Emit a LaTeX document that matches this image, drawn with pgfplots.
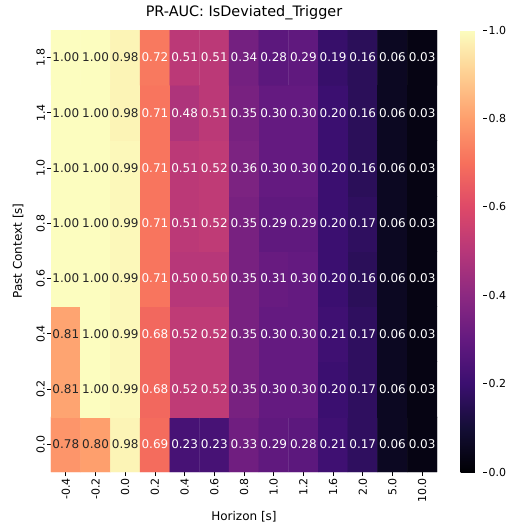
\documentclass[border=0pt]{standalone}
\usepackage{pgfplots}
\usepackage{pgfplotstable}
\pgfplotsset{compat=1.18}
\usepackage{fontspec}
\setmainfont{DejaVu Sans}
\definecolor{lbldark}{HTML}{262626}
\pgfplotsset{colormap={magma}{rgb255=(0,0,4) rgb255=(20,14,54) rgb255=(59,15,112) rgb255=(100,26,128) rgb255=(140,41,129) rgb255=(183,55,121) rgb255=(222,73,104) rgb255=(247,112,92) rgb255=(254,159,109) rgb255=(254,207,146) rgb255=(252,253,191)}}
\pgfplotstableread{
x y v
0 0 0.78
1 0 0.80
2 0 0.98
3 0 0.69
4 0 0.23
5 0 0.23
6 0 0.33
7 0 0.29
8 0 0.28
9 0 0.21
10 0 0.17
11 0 0.06
12 0 0.03
0 1 0.81
1 1 1.00
2 1 0.99
3 1 0.68
4 1 0.52
5 1 0.52
6 1 0.35
7 1 0.30
8 1 0.30
9 1 0.20
10 1 0.17
11 1 0.06
12 1 0.03
0 2 0.81
1 2 1.00
2 2 0.99
3 2 0.68
4 2 0.52
5 2 0.52
6 2 0.35
7 2 0.30
8 2 0.30
9 2 0.21
10 2 0.17
11 2 0.06
12 2 0.03
0 3 1.00
1 3 1.00
2 3 0.99
3 3 0.71
4 3 0.50
5 3 0.50
6 3 0.35
7 3 0.31
8 3 0.30
9 3 0.20
10 3 0.16
11 3 0.06
12 3 0.03
0 4 1.00
1 4 1.00
2 4 0.99
3 4 0.71
4 4 0.51
5 4 0.52
6 4 0.35
7 4 0.29
8 4 0.29
9 4 0.20
10 4 0.17
11 4 0.06
12 4 0.03
0 5 1.00
1 5 1.00
2 5 0.99
3 5 0.71
4 5 0.51
5 5 0.52
6 5 0.36
7 5 0.30
8 5 0.30
9 5 0.20
10 5 0.16
11 5 0.06
12 5 0.03
0 6 1.00
1 6 1.00
2 6 0.98
3 6 0.71
4 6 0.48
5 6 0.51
6 6 0.35
7 6 0.30
8 6 0.30
9 6 0.20
10 6 0.16
11 6 0.06
12 6 0.03
0 7 1.00
1 7 1.00
2 7 0.98
3 7 0.72
4 7 0.51
5 7 0.51
6 7 0.34
7 7 0.28
8 7 0.29
9 7 0.19
10 7 0.16
11 7 0.06
12 7 0.03
}\datatable
\begin{document}
\begin{tikzpicture}
\path[use as bounding box] (-51pt,-52pt) rectangle (461pt,472pt);
\begin{axis}[
  at={(0pt,0pt)}, anchor=south west,
  scale only axis, width=386pt, height=442pt,
  xmin=-0.5, xmax=12.5, ymin=-0.5, ymax=7.5,
  enlargelimits=false,
  xtick={0,...,12},
  xticklabels={-0.4,-0.2,0.0,0.2,0.4,0.6,0.8,1.0,1.2,1.6,2.0,5.0,10.0},
  ytick={0,...,7},
  yticklabels={0.0,0.2,0.4,0.6,0.8,1.0,1.4,1.8},
  xticklabel style={rotate=90, anchor=east, font=\fontsize{11}{13}\selectfont, inner sep=2pt},
  yticklabel style={rotate=90, anchor=south, font=\fontsize{11}{13}\selectfont, inner sep=2pt},
  tick align=outside, xtick pos=bottom, ytick pos=left,
  major tick length=4pt,
  tick style={black, line width=0.8pt},
  axis line style={draw=none},
  colormap name=magma,
  point meta min=0, point meta max=1,
  title={PR-AUC: IsDeviated\_Trigger},
  title style={at={(0.5,1)}, anchor=base, yshift=7.5pt, font=\fontsize{14.4}{17}\selectfont},
  xlabel={Horizon [s]},
  ylabel={Past Context [s]},
  every axis x label/.style={at={(axis description cs:0.5,-0.1018)}, anchor=center, font=\fontsize{12}{14}\selectfont},
  every axis y label/.style={at={(axis description cs:-0.0855,0.5)}, rotate=90, anchor=center, font=\fontsize{12}{14}\selectfont},
  colorbar,
  colorbar style={
    at={(parent axis.north east)}, anchor=north west, xshift=15pt,
    scale only axis, width=22pt, height=442pt,
    ytick={0,0.2,0.4,0.6,0.8,1.0},
    ytick pos=right, yticklabel pos=right,
    tick align=outside, major tick length=4pt,
    tick style={black, line width=0.8pt},
    axis line style={draw=none},
    yticklabel style={font=\fontsize{11}{13}\selectfont, inner sep=2pt},
    /pgf/number format/fixed, /pgf/number format/fixed zerofill,
    /pgf/number format/precision=1, /pgf/number format/assume math mode=true,
  },
]
\addplot[matrix plot*, mesh/cols=13, point meta=explicit] table[x=x, y=y, meta=v] {\datatable};
\addplot[only marks, mark=*, mark size=0pt, mark options={draw=none, fill=none},
  point meta=explicit symbolic,
  nodes near coords={\ifdim\pgfplotspointmeta pt>0.75pt\color{lbldark}\else\color{white}\fi\pgfplotspointmeta},
  every node near coord/.append style={anchor=center, inner sep=0pt, font=\fontsize{12}{14}\selectfont}
] table[x=x, y=y, meta=v] {\datatable};
\end{axis}
\end{tikzpicture}
\end{document}
